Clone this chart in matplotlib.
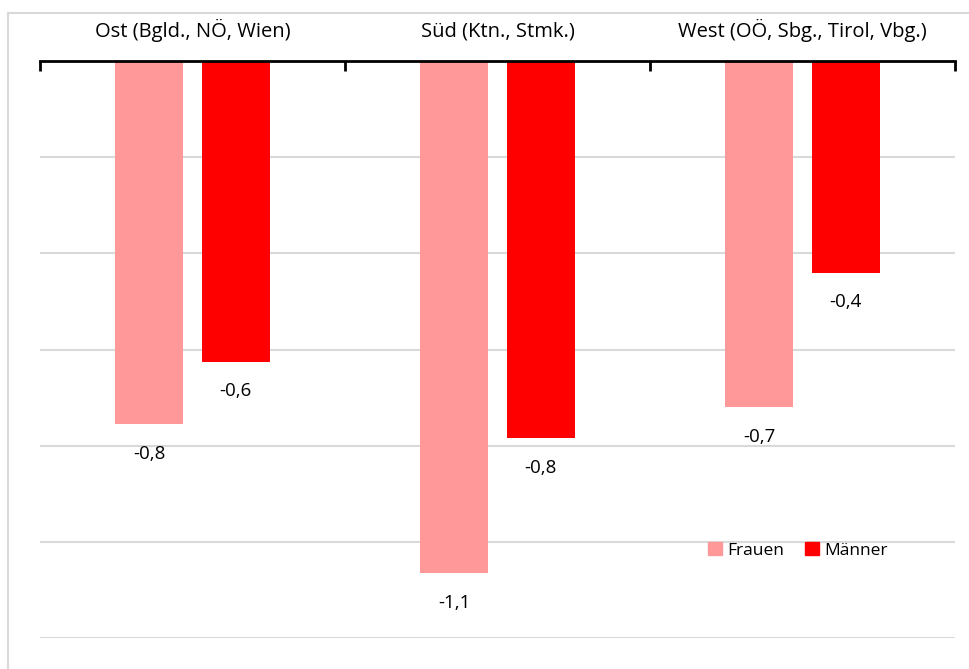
import numpy as np
import matplotlib.pyplot as plt
from matplotlib.lines import Line2D
from matplotlib import rcParams

rcParams['font.family'] = ['Open Sans', 'DejaVu Sans']

regions = ["Ost (Bgld., NÖ, Wien)", "Süd (Ktn., Stmk.)", "West (OÖ, Sbg., Tirol, Vbg.)"]
frauen = [-0.755, -1.065, -0.72]
maenner = [-0.625, -0.785, -0.44]
series_names = ["Frauen", "Männer"]
colors = ["#FF9999", "#FF0000"]

fig = plt.figure(figsize=(9.69, 6.69), dpi=100)
ax = fig.add_axes([40 / 969, 1 - 638 / 669, 915 / 969, 577 / 669])

x = np.arange(len(regions)) + 0.5
w = 0.2215
off = 0.142
for vals, dx, col, name in zip([frauen, maenner], [-off, off], colors, series_names):
    ax.bar(x + dx, vals, width=w, color=col, label=name, zorder=2)
    for xi, v in zip(x + dx, vals):
        ax.text(xi, v - 0.062, f"{v:.1f}".replace(".", ","), ha="center", va="center",
                fontsize=13.5, color="black")

ax.set_xlim(0, 3)
ax.set_ylim(-1.2, 0)
ax.set_yticks(np.arange(-1.2, 0.01, 0.2))
ax.yaxis.grid(True, color="#d9d9d9", linewidth=1.5, zorder=0)
ax.tick_params(axis="y", left=False, labelleft=False)
for s in ["left", "right", "bottom"]:
    ax.spines[s].set_visible(False)
ax.spines["top"].set_linewidth(2)
ax.spines["top"].set_zorder(3)

# category boundaries as ticks on top axis, names as minor labels
ax.xaxis.tick_top()
ax.set_xticks([0, 1, 2, 3])
ax.set_xticklabels([])
ax.set_xticks(x, minor=True)
ax.set_xticklabels(regions, minor=True, fontsize=14.5)
ax.tick_params(axis="x", which="major", direction="in", length=7, width=2, top=True, bottom=False)
ax.tick_params(axis="x", which="minor", length=0, pad=14, top=True, bottom=False)

handles = [plt.Rectangle((0, 0), 1, 1, color=c) for c in colors]
ax.legend(handles, series_names, loc="center", bbox_to_anchor=(0.828, 0.152), ncol=2,
          frameon=False, fontsize=12.5, handlelength=0.8, handleheight=0.8,
          handletextpad=0.3, columnspacing=1.2)

# outer chart border
fig.add_artist(Line2D([7.5 / 969, 7.5 / 969], [0, 1 - 13 / 669], color="#d9d9d9", lw=1.5))
fig.add_artist(Line2D([7.5 / 969, 1], [1 - 13 / 669, 1 - 13 / 669], color="#d9d9d9", lw=1.5))

fig.savefig("out.png", dpi=100)
